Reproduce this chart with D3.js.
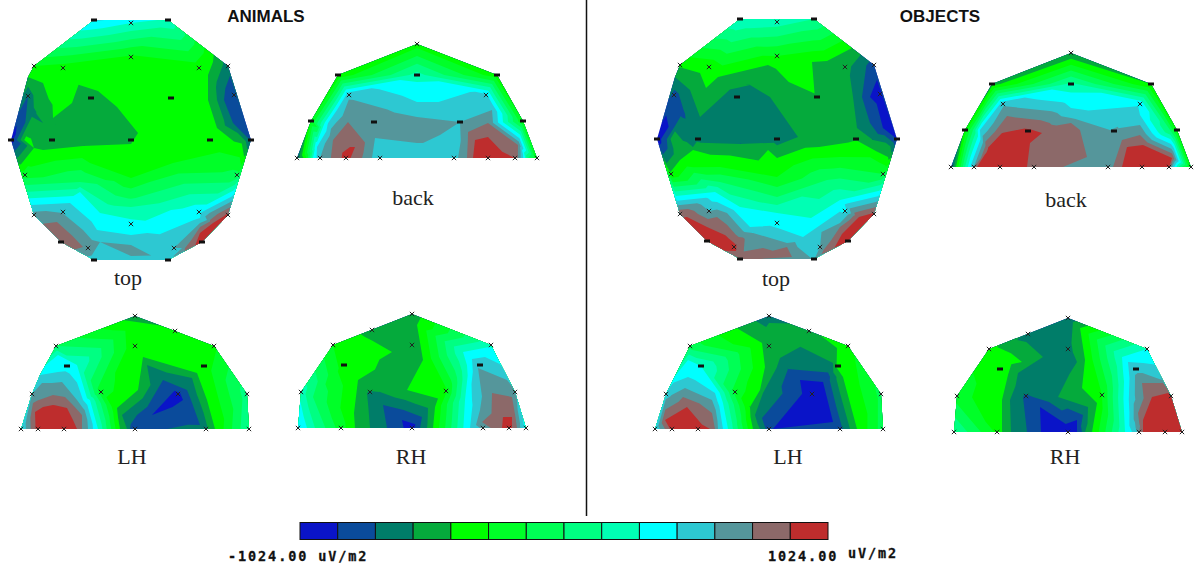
<!DOCTYPE html>
<html>
<head>
<meta charset="utf-8">
<script src="https://cdn.jsdelivr.net/npm/d3@7"></script>
<style>
  html, body { margin: 0; background: #fff; }
</style>
</head>
<body>
<div id="chart"></div>
<script>
// 14 step colour scale, -1024 to 1024 uV/m2
const stepColors = ["#0a14c8", "#0a4b9b", "#007d69", "#05aa3c", "#00ff00", "#00ff28", "#00ff55", "#00ff82", "#00ffb4", "#00ffff", "#2dc8d2", "#55969b", "#8c6969", "#be2d2d"];

// electrode layouts, [x, y, mark] in head units. mark 1 = dash, 0 = cross
const topSensors = [[-37,-120,1],[37,-120,1],[0,-117,0],[0,-83,0],[-97,-74,0],[-68,-72,0],[68,-72,0],[97,-74,0],[-103,-44,0],[-40,-42,1],[40,-42,1],[103,-45,0],[-120,0,1],[-79,0,1],[0,0,1],[79,0,1],[120,0,1],[-106,35,0],[106,35,0],[-97,75,0],[-68,72,0],[68,72,0],[97,75,0],[0,84,0],[-70,102,1],[-43,108,0],[43,108,0],[71,102,1],[-37,120,1],[37,120,1]];
const backSensors = [[0,-114,0],[-79,-83,1],[0,-83,1],[80,-83,1],[-68,-63,0],[69,-63,0],[-106,-37,1],[-43,-36,1],[43,-36,1],[106,-37,1],[-120,0,0],[-97,0,0],[-71,0,0],[-37,0,0],[37,0,0],[71,0,0],[98,0,0],[120,0,0]];
const lhSensors = [[0,-113,0],[40,-98,0],[-79,-83,0],[0,-83,0],[79,-83,0],[-68,-63,1],[69,-63,1],[-103,-35,0],[-34,-37,0],[43,-35,0],[112,-35,0],[-114,0,0],[-97,0,0],[-71,0,0],[0,0,0],[71,0,0],[114,0,0]];
const rhSensors = [[0,-114,0],[-40,-98,0],[-79,-83,0],[0,-83,0],[79,-83,0],[-68,-63,1],[68,-63,1],[-111,-36,0],[-42,-36,0],[34,-37,0],[103,-36,0],[-114,0,0],[-71,0,0],[0,0,0],[71,0,0],[97,0,0],[114,0,0]];

// values at the electrodes, read as position on the colour scale (0-14)
const topAnimals = [10.2,8.8,9,4.8,5,4.5,4.5,2.5,2,3.6,4.5,1,0.5,3.4,3.7,4.3,1.8,5.5,6.3,11.5,10.9,9.7,13.3,9.4,13.05,11.8,11,13.6,10.5,10.5];
const backAnimals = [4.5,4.2,8.4,4.3,10.8,10.3,5,11.9,11,5,2,11,13.4,10.4,10.3,13.9,13,5];
const lhAnimals = [3.5,4.3,7,4.3,4.8,9.5,4.5,11,5.5,0.7,7.5,10,13.5,13.5,1.5,2.6,8];
const rhAnimals = [3.4,3.6,5,3.2,8.8,4.5,10.7,8.6,2.9,4.8,11.3,10.2,5.5,0.5,11.3,13.2,9.5];
const topObjects = [9,8,8.5,5,4.2,4.3,3.4,1.5,1.6,2.4,3.9,0.5,0.3,2.7,2.5,3.9,1,4.2,6,12.9,11,9.5,13.2,9.6,13.7,13.3,11,13.7,12.4,10.9];
const backObjects = [3,3.5,8.3,4,10.8,9.9,4.5,13.2,11.2,4.5,1.5,12,13.5,12.3,11.3,13.6,13.1,4.5];
const lhObjects = [2.3,3.7,6.5,3.3,4.7,9,4.4,10.5,5.7,0.5,6.3,10,13.4,13.4,1.4,1.7,6.5];
const rhObjects = [2.3,2.6,4.5,2.6,9,4.4,10.6,5.5,1.9,5,13,8,4.8,0.4,12,13.5,13];

// extra readings between electrodes, [x, y, value]
const topAnimalsExtra = [[-106,0,4.2],[-97,8,4],[-85,-5,3.5],[-98,-27,2.8],[-88,-17,3],[-95,-45,3.5],[-78,-22,4],[-75,-15,3.6],[-60,-15,3.4],[-72,-38,4.4],[-88,-57,4],[-103,-63,4],[-33,-49,4],[-14,-33,4],[7,-7,4],[19,0,4],[-48,6,4],[0,4,4],[-88,10,4],[-59,-37,4],
  [77,-40,4],[86,-40,3],[93,-40,2],[86,-12,4],[93,-20,3],[102,-17,2],[111,2,3.9],[82,-78,4],[77,-65,4],
  [0,95,10],[0,105,11],[0,110,11.6],[0,120,10.6],[-51,52,9],[-61,63,10],[-74,82,12],[-48,90,11],[-31,73,9],[-34,90,10],[-31,102,11],
  [-41,23,5],[42,23,5],[0,38,5],[-51,47,8],[-51,42,7],[0,67,8],[0,57,6.8],[69,78,10],[69,83,11],[69,87,12],[69,93,13],[82,83,13],[79,80,12],[76,80,11],[54,108,12],[51,108,11],[-48,107,12]];
const backAnimalsExtra = [[0,-76,9],[0,-56,10],[0,-41,11],[0,-15,11],[0,0,10.5],[-69,-36,12],[-55,0,12],[-45,0,11],[-42,-20,11],[-42,0,10.6],[-67,-11,13],[-62,-11,13],[-84,-18,12],[-100,-11,10],[-80,-48,10],
  [-112,0,4.5],[-104,0,9],[111,0,7],[108,0,9.2],[105,0,10.5],[41,0,11],[50,0,12],[56,0,13],[51,-26,12],[58,-18,13],[71,-21,13],[71,-35,12],[75,-48,11],[101,-13,12],[43,-18,10.9],[6,-15,11],[23,-23,11],[40,-18,10.5],
  [-87,-35,10.5],[-94,-31,9],[-100,-31,6]];
const lhAnimalsExtra = [[-82,-22,13.2],[-92,-22,13],[-68,-21,13],[-62,-9,13],[-58,0,13],[-100,-17,13],[-82,-34,12],[-102,-26,12],[-70,-32,12],[-53,0,12],[-53,-14,12],[-83,-46,11],[-93,-46,11],[-73,-47,11],[-58,-29,11],[-47,0,11],[-77,-57,10],[-95,-54,10],[-52,-29,10],[-42,0,10],[-77,-74,9],[-58,-64,9],[-45,-29,9],[-37,0,9],
  [8,-72,4],[3,-39,4],[-18,-21,4],[-15,0,4],[35,-64,4],[62,-56,4],[72,-29,4],[80,0,4],[12,-64,3],[-13,-14,3],[-8,0,3],[57,-51,3],[73,0,3],[28,-49,2],[-7,0,2.2],[52,-39,2],[65,-4,2],[17,-14,1],[48,-29,1],[32,-9,1.3],[0,-105,4.2]];
const rhAnimalsExtra = [[-47,-91,4],[-20,-76,4],[-40,-72,4.6],[-54,-48,4],[-58,-15,4],[-57,0,4],[5,-103,4],[11,-68,4],[-5,-38,4],[23,-21,4],[21,0,4],[-20,-63,3],[-45,-35,3],[-42,0,3],[-32,-36,3],[16,-20,3],[15,0,3],[-29,-23,2],[-25,0,2],[10,-11,2],[8,0,2],[-10,-8,1],
  [-105,0,9],[-97,0,8],[-99,-31,7],[50,0,8.8],[58,0,10],[68,0,11],[70,-6,12],[80,-35,12],[100,-31,12],[91,-11,13],[100,-11,13],[90,0,13],[100,0,13],[105,0,12],[110,0,10.5],[66,-60,11],[95,-48,11],[68,-18,11],[60,-69,10],[73,-71,10],[60,-28,10],[51,-76,9],[53,-28,9]];
const topObjectsExtra = [[-9,-74,4],[-59,-62,4],[-71,-51,4],[-77,-66,4],[35,-77,4],[23,-66,4.6],[50,-78,4],[75,-91,4],[0,-76,4.2],
  [-77,-22,3],[-40,-51,3],[-27,-54,3],[-7,-42,3],[21,-2,3],[-37,5,3],[-84,8,3],[-97,21,4],[-84,11,4],[-9,11,4],[0,19,4],[80,-1,4],[110,11,4],
  [76,-42,3],[85,-42,2],[93,-42,1],[80,-11,3],[93,-16,2],[106,-11,1],[96,1,3],[111,18,4],[-95,-26,1.8],[-87,-49,3],[-102,-62,3],[-109,0,2.2],[-105,0,3.5],[-94,4,3.1],
  [0,38,5],[-57,28,5],[63,18,5],[0,58,7],[-57,43,7],[50,41,7],[-62,53,9],[-37,68,9],[0,74,9],[63,61,9],[-60,63,10],[-27,88,10],[26,98,10],[66,74,10],[-50,74,11],[-24,94,11],[10,104,11],[63,84,11],[-60,78,12],[10,108,12],[15,118,12],[-10,115,12.4],[-70,88,13],[-44,103,13],[-50,100,13.2],[-70,95,13.5],[-90,78,13],[48,113,12.5],[63,88,12],[65,95,13],[82,78,13]];
const backObjectsExtra = [[0,-72,9.2],[0,-59,10],[0,-49,11],[0,-44,12],[9,-37,12],[16,-10,12],[-8,0,12],[-44,0,13],[-29,-34,13],[-41,-24,13],[-69,-34,13],[-94,0,13],[-82,-17,13.4],[-69,-20,13.5],[-64,-51,12],
  [42,0,12],[51,0,13],[56,-20,13],[72,-22,13],[101,-9,13],[69,-32,12],[51,-27,12],[69,-42,11],[69,-52,10],[39,-37,11],[-114,0,4.5],[-106,0,8],[-99,0,10.5],[109,0,7.5],[102,0,10.5],[-91,-37,10],[-98,-37,7],[99,-37,7]];
const lhObjectsExtra = [[-82,-22,13],[-59,0,13],[-104,-9,13],[-86,-32,12],[-54,0,12],[-57,-16,12],[-84,-41,11],[-51,0,11],[-57,-29,11],[-81,-52,10],[-46,0,10],[-54,-36,10],[-81,-69,9],[-64,-57,9],[-46,-26,9],[-41,0,9],
  [-7,-86,4],[-4,-62,4],[-9,-39,4],[-19,-22,4],[-16,0,4],[68,-81,4],[74,-52,4],[88,0,4],[11,-71,3],[-6,-36,3],[-14,-14,3],[-9,0,3],[64,-66,3],[81,0,3],[19,-60,2],[-7,-11,2],[61,-52,2],[74,0,2],[31,-49,1],[54,-47,1],[64,-7,1],[4,0,1],[0,-106,3]];
const rhObjectsExtra = [[-46,-70,4],[-60,-72,4.5],[-60,-57,4],[-66,-32,4],[-66,0,4],[-71,-85,4],[12,-104,4],[17,-72,4],[14,-44,4],[29,-29,4],[24,0,4],[-51,-92,3],[-25,-75,3],[-50,-59,3],[-58,-32,3],[-57,0,3],[9,-70,3],[-10,-35,3],[20,-25,3],[17,0,3],[-11,-72,2],[-45,-35,2],[-41,0,2],[-35,-35,2],[15,-17,2],[14,0,2],[-28,-25,1],[-27,0,1],[9,-12,1],[9,0,1],
  [57,0,9],[54,-75,9],[64,0,10],[60,-70,10],[75,-69,10],[69,0,11],[67,-57,11],[94,-52,11],[64,-32,10.6],[74,-49,12],[95,-49,12],[70,-19,12],[75,0,13],[75,-12,13],[84,-35,13],[100,-39,13]];

const panels = [
  { name: "top", cx: 131, cy: 140, sensors: topSensors, values: topAnimals, extra: topAnimalsExtra },
  { name: "back", cx: 417, cy: 158, sensors: backSensors, values: backAnimals, extra: backAnimalsExtra },
  { name: "LH", cx: 135, cy: 429, sensors: lhSensors, values: lhAnimals, extra: lhAnimalsExtra },
  { name: "RH", cx: 412, cy: 428, sensors: rhSensors, values: rhAnimals, extra: rhAnimalsExtra },
  { name: "top", cx: 777, cy: 139, sensors: topSensors, values: topObjects, extra: topObjectsExtra },
  { name: "back", cx: 1071, cy: 167, sensors: backSensors, values: backObjects, extra: backObjectsExtra },
  { name: "LH", cx: 769, cy: 429, sensors: lhSensors, values: lhObjects, extra: lhObjectsExtra },
  { name: "RH", cx: 1068, cy: 432, sensors: rhSensors, values: rhObjects, extra: rhObjectsExtra }
];

const captions = [
  { text: "top", x: 128, y: 285 }, { text: "back", x: 413, y: 205 },
  { text: "LH", x: 132, y: 464 }, { text: "RH", x: 411, y: 464 },
  { text: "top", x: 776, y: 286 }, { text: "back", x: 1066, y: 207 },
  { text: "LH", x: 788, y: 464 }, { text: "RH", x: 1065, y: 464 }
];

const svg = d3.select("#chart").append("svg")
  .attr("width", 1200).attr("height", 568)
  .style("display", "block");

// part of a triangle at or above level t
function clipTriangle(tri, t) {
  const out = [];
  for (let i = 0; i < 3; i++) {
    const a = tri[i], b = tri[(i + 1) % 3];
    if (a[2] >= t) out.push(a);
    if ((a[2] >= t) !== (b[2] >= t)) {
      const k = (t - a[2]) / (b[2] - a[2]);
      out.push([a[0] + k * (b[0] - a[0]), a[1] + k * (b[1] - a[1]), t]);
    }
  }
  return out;
}

panels.forEach((p) => {
  const x = d3.scaleLinear().domain([-120, 120]).range([p.cx - 120, p.cx + 120]);
  const y = d3.scaleLinear().domain([-120, 120]).range([p.cy - 120, p.cy + 120]);
  const pts = p.sensors.map((s, i) => [x(s[0]), y(s[1]), p.values[i]])
    .concat(p.extra.map((e) => [x(e[0]), y(e[1]), e[2]]));
  const del = d3.Delaunay.from(pts, (d) => d[0], (d) => d[1]);
  const tris = d3.range(del.triangles.length / 3).map((i) => [
    pts[del.triangles[3 * i]], pts[del.triangles[3 * i + 1]], pts[del.triangles[3 * i + 2]]
  ]);
  const g = svg.append("g");
  const line = d3.line();
  g.selectAll("path")
    .data(stepColors)
    .join("path")
    .attr("fill", (c) => c)
    .attr("d", (c, i) => tris.map((tri) => {
      const poly = i === 0 ? tri : clipTriangle(tri, i);
      return poly.length > 2 ? line(poly.map((q) => [q[0], q[1]])) + "Z" : "";
    }).join(""));

  g.selectAll(".cross")
    .data(p.sensors.filter((s) => !s[2]))
    .join("path")
    .attr("class", "cross")
    .attr("transform", (s) => `translate(${x(s[0])},${y(s[1])})`)
    .attr("d", d3.symbol().type(d3.symbolX).size(14))
    .attr("fill", "none")
    .attr("stroke", "#222")
    .attr("stroke-width", 1);
  g.selectAll(".dash")
    .data(p.sensors.filter((s) => s[2]))
    .join("rect")
    .attr("class", "dash")
    .attr("x", (s) => x(s[0]) - 3)
    .attr("y", (s) => y(s[1]) - 1.5)
    .attr("width", 6)
    .attr("height", 3)
    .attr("fill", "#111");
});

svg.selectAll(".caption")
  .data(captions)
  .join("text")
  .attr("class", "caption")
  .attr("x", (d) => d.x)
  .attr("y", (d) => d.y)
  .attr("text-anchor", "middle")
  .attr("font-family", "'Liberation Serif', serif")
  .attr("font-size", 22)
  .attr("fill", "#222")
  .text((d) => d.text);

svg.selectAll(".title")
  .data([{ text: "ANIMALS", x: 266 }, { text: "OBJECTS", x: 940 }])
  .join("text")
  .attr("class", "title")
  .attr("x", (d) => d.x)
  .attr("y", 22)
  .attr("text-anchor", "middle")
  .attr("font-family", "'Liberation Sans', sans-serif")
  .attr("font-weight", "bold")
  .attr("font-size", 17)
  .attr("fill", "#111")
  .text((d) => d.text);

svg.append("line")
  .attr("x1", 586.5).attr("x2", 586.5)
  .attr("y1", 0).attr("y2", 516)
  .attr("stroke", "#111").attr("stroke-width", 1.5);

// colour bar
const barX = d3.scaleBand().domain(d3.range(stepColors.length)).range([300, 828]);
svg.selectAll(".step")
  .data(stepColors)
  .join("rect")
  .attr("class", "step")
  .attr("x", (c, i) => barX(i))
  .attr("y", 522.5)
  .attr("width", barX.bandwidth())
  .attr("height", 17)
  .attr("fill", (c) => c)
  .attr("stroke", "#111")
  .attr("stroke-width", 1);

const barLabels = [
  { text: "-1024.00 uV/m2", x: 228, y: 561 },
  { text: "1024.00", x: 768, y: 561 },
  { text: "uV/m2", x: 848, y: 558 }
];
svg.selectAll(".barlabel")
  .data(barLabels)
  .join("text")
  .attr("class", "barlabel")
  .attr("x", (d) => d.x)
  .attr("y", (d) => d.y)
  .attr("font-family", "'DejaVu Sans Mono', monospace")
  .attr("font-weight", "bold")
  .attr("font-size", 13.5)
  .attr("letter-spacing", 1.9)
  .attr("stroke", "#111")
  .attr("stroke-width", 0.3)
  .attr("fill", "#111")
  .text((d) => d.text);
</script>
</body>
</html>
